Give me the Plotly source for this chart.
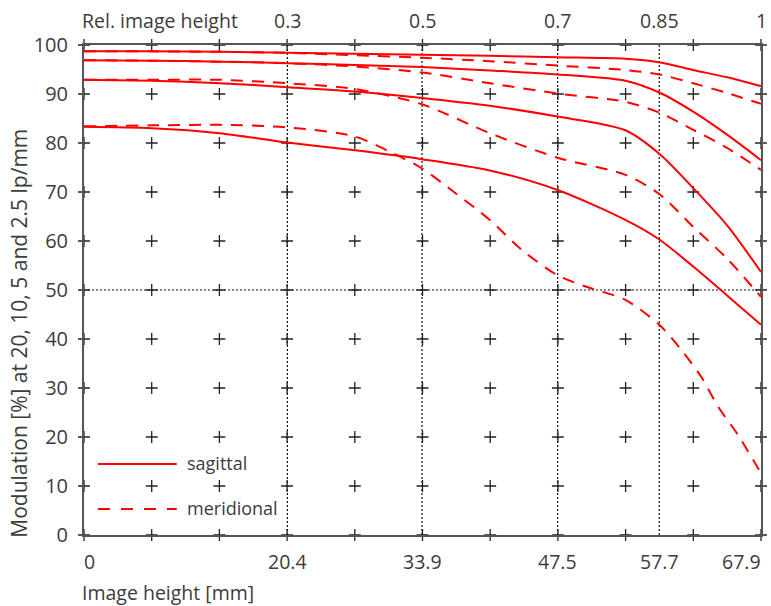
import plotly.graph_objects as go

# ---- data ----
X_MM = [0, 6.8, 13.6, 20.4, 27.2, 33.9, 40.7, 47.5, 54.3, 57.7, 61.1, 64.5, 67.9]
SAG_25 = [98.7, 98.7, 98.6, 98.4, 98.2, 98.0, 97.8, 97.5, 97.2, 96.5, 94.9, 93.4, 91.6]
MER_25 = [98.7, 98.7, 98.6, 98.4, 97.9, 97.4, 96.7, 95.8, 94.9, 94.0, 92.2, 90.2, 88.0]
SAG_5 = [96.9, 96.8, 96.6, 96.3, 95.9, 95.5, 94.8, 94.0, 92.7, 90.3, 86.4, 81.7, 76.5]
MER_5 = [96.9, 96.8, 96.6, 96.3, 95.6, 94.4, 92.2, 90.1, 88.4, 86.2, 82.7, 79.0, 74.5]
SAG_10 = [92.9, 92.7, 92.2, 91.4, 90.5, 89.2, 87.6, 85.4, 82.6, 77.8, 70.8, 63.2, 53.7]
MER_10 = [92.9, 92.9, 92.9, 92.2, 91.0, 87.9, 82.0, 77.0, 73.5, 69.6, 62.9, 56.4, 48.6]
SAG_20 = [83.3, 83.0, 82.0, 80.1, 78.5, 76.7, 74.4, 70.4, 64.3, 60.3, 54.8, 48.9, 42.9]
X_MER_20 = [0, 6.8, 13.6, 20.4, 27.2, 30.9, 33.9, 37.3, 40.7, 43.9, 47.5, 50.6, 54.3,
            57.7, 59.9, 61.9, 63.6, 65.6, 67.9]
MER_20 = [83.4, 83.6, 83.7, 83.2, 81.3, 78.0, 74.8, 69.7, 64.3, 58.2, 53.0, 50.5, 48.0,
          42.9, 37.8, 32.3, 26.2, 20.4, 12.6]

X_TICKS = [0, 20.4, 33.9, 47.5, 57.7, 67.9]
X_TICK_TEXT = ["0", "20.4", "33.9", "47.5", "57.7", "67.9"]
REL_TICKS = [20.4, 33.9, 47.5, 57.7, 67.9]
REL_TICK_TEXT = ["0.3", "0.5", "0.7", "0.85", "1"]
Y_TICKS = list(range(0, 101, 10))
X_MAX = 67.9
GRID_X = [X_MAX * i / 10 for i in range(11)]
GRID_Y = list(range(0, 101, 10))
DOTTED_X = [20.4, 33.9, 47.5, 57.7]
DOTTED_Y = [50]

FONT = "Open Sans"
TXT = "#3c3c3c"
RED = "#ff0000"
DASH = "12px,9px"

fig = go.Figure()

# plus-grid
gx, gy = [], []
for xv in GRID_X:
    for yv in GRID_Y:
        gx.append(xv)
        gy.append(yv)
fig.add_trace(go.Scatter(x=gx, y=gy, mode="markers", cliponaxis=False,
                         marker=dict(symbol="cross-thin", size=8.5,
                                     line=dict(color="#222", width=1.3)),
                         showlegend=False, hoverinfo="skip"))

series = [
    (X_MM, SAG_25, "solid"), (X_MM, MER_25, DASH),
    (X_MM, SAG_5, "solid"), (X_MM, MER_5, DASH),
    (X_MM, SAG_10, "solid"), (X_MM, MER_10, DASH),
    (X_MM, SAG_20, "solid"), (X_MER_20, MER_20, DASH),
]
for xs, ys, d in series:
    fig.add_trace(go.Scatter(x=xs, y=ys, mode="lines",
                             line=dict(color=RED, width=2, dash=d, shape="spline", smoothing=0.8),
                             showlegend=False, hoverinfo="skip"))

shapes = []
for xv in DOTTED_X:
    shapes.append(dict(type="line", xref="x", yref="paper", x0=xv, x1=xv, y0=0, y1=1,
                       line=dict(color="#111", width=1.2, dash="2px,2px"), layer="below"))
for yv in DOTTED_Y:
    shapes.append(dict(type="line", xref="paper", yref="y", x0=0, x1=1, y0=yv, y1=yv,
                       line=dict(color="#111", width=1.2, dash="2px,2px"), layer="below"))

# legend samples (pixel positions converted to paper)
L, T, W, H = 84, 45, 679, 490
def px(x):
    return (x - L) / W
def py(y):
    return (T + H - y) / H
shapes.append(dict(type="line", xref="paper", yref="paper", x0=px(98), x1=px(177),
                   y0=py(464), y1=py(464), line=dict(color=RED, width=2)))
shapes.append(dict(type="line", xref="paper", yref="paper", x0=px(98), x1=px(177),
                   y0=py(509), y1=py(509), line=dict(color=RED, width=2, dash="12px,11px")))

ann = []
ann.append(dict(text="sagittal", xref="paper", yref="paper", x=px(185), y=py(463),
                xanchor="left", yanchor="middle", showarrow=False,
                font=dict(family=FONT, size=18, color=TXT)))
ann.append(dict(text="meridional", xref="paper", yref="paper", x=px(185), y=py(508),
                xanchor="left", yanchor="middle", showarrow=False,
                font=dict(family=FONT, size=18, color=TXT)))
for i, (v, t) in enumerate(zip(X_TICKS, X_TICK_TEXT)):
    xa = "left" if i == 0 else ("right" if i == len(X_TICKS) - 1 else "center")
    ann.append(dict(text=t, x=v, xref="x", y=py(561), yref="paper", xanchor=xa,
                    yanchor="middle", showarrow=False, xshift=-2 if i == 0 else (2 if xa == "right" else 0),
                    font=dict(family=FONT, size=19.5, color=TXT)))
for i, (v, t) in enumerate(zip(REL_TICKS, REL_TICK_TEXT)):
    ann.append(dict(text=t, x=v, xref="x", y=py(20), yref="paper", xanchor="center",
                    yanchor="middle", showarrow=False,
                    font=dict(family=FONT, size=19.5, color=TXT)))
ann.append(dict(text="Rel. image height", xref="paper", yref="paper", x=px(80), y=py(20),
                xanchor="left", yanchor="middle", showarrow=False,
                font=dict(family=FONT, size=19.5, color=TXT)))
ann.append(dict(text="Image height [mm]", xref="paper", yref="paper", x=px(80), y=py(592),
                xanchor="left", yanchor="middle", showarrow=False,
                font=dict(family=FONT, size=19.5, color=TXT)))
ann.append(dict(text="Modulation [%] at 20, 10, 5 and 2.5 lp/mm", xref="paper", yref="paper",
                x=px(18), y=py(540), textangle=-90, xanchor="center", yanchor="bottom",
                showarrow=False, font=dict(family=FONT, size=21, color=TXT)))

fig.update_layout(
    width=771, height=606,
    margin=dict(l=L, r=771 - L - W, t=T, b=606 - T - H),
    paper_bgcolor="white", plot_bgcolor="white",
    shapes=shapes, annotations=ann, showlegend=False,
    xaxis=dict(range=[0, X_MAX], showgrid=False, zeroline=False, showticklabels=False,
               showline=True, linecolor="#555", linewidth=2, mirror=True, ticks=""),
    yaxis=dict(range=[0, 100], tickvals=Y_TICKS, showgrid=False, zeroline=False,
               showline=True, linecolor="#555", linewidth=2, mirror=True, ticks="",
               ticklabelstandoff=10,
               tickfont=dict(family=FONT, size=20, color=TXT)),
)

fig.write_html("out.html", config={"displayModeBar": False},
               post_script="document.body.style.margin='0';document.body.style.padding='0';")
